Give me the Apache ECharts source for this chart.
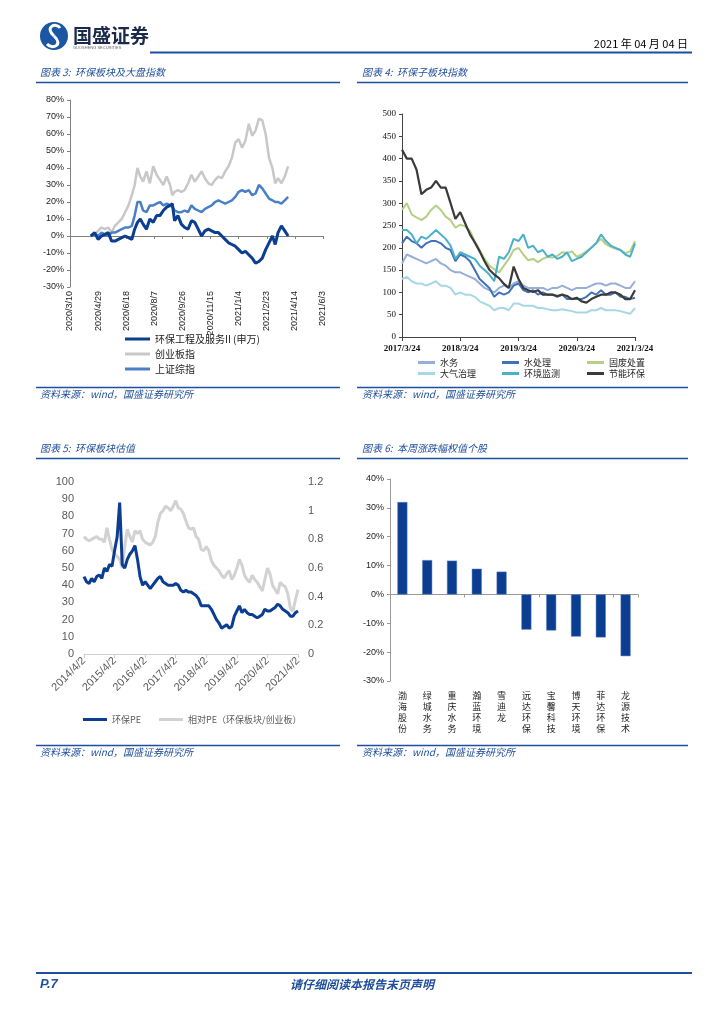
<!DOCTYPE html>
<html><head><meta charset="utf-8">
<script src="https://cdn.jsdelivr.net/npm/echarts@6/dist/echarts.min.js"></script>
<style>html,body{margin:0;padding:0;background:#fff}#c{width:724px;height:1024px}</style>
</head><body><div id="c"></div>
<script>
// ---------- Chart 3: 环保板块及大盘指数 ----------
const c3Ticks = ['2020/3/10','2020/4/29','2020/6/18','2020/8/7','2020/9/26','2020/11/15','2021/1/4','2021/2/23','2021/4/14','2021/6/3'];
const c3Day = [37,44,50,56,62,68,74,80,86,92,98,104,110,115,120,125,130,136,142,148,154,160,166,172,178,182,186,192,198,204,210,216,222,228,234,240,246,252,258,264,270,276,282,288,294,300,306,312,318,324,330,336,342,348,354,360,365,370,376,382,388];
const c3Env = [0,2,-2,0,1,2,-3,-3,-2,-1,0,-1,-2,4,8,10,7,4,10,8,12,12,15,17,18,19,9,12,7,5,4,9,8,4,0,3,4,3,2,2,0,-2,-4,-5,-6,-8,-10,-9,-11,-13,-16,-15,-13,-8,-4,0,-5,2,6,3,0];
const c3Gem = [0,1,3,5,4,5,2,6,8,10,14,18,24,30,40,35,32,38,31,41,36,33,30,35,30,24,26,27,26,27,31,36,32,35,38,34,31,30,33,35,34,38,41,46,55,57,52,56,66,59,62,69,68,60,46,40,31,34,31,35,41];
const c3SH = [0,1,0,2,1,0,2,2,3,4,5,5,6,12,20,20,15,14,18,18,19,20,18,19,18,17,15,14,14,15,14,18,16,15,14,16,17,18,20,21,20,19,20,21,23,26,27,26,27,24,25,30,28,25,22,21,20,20,19,21,23];
const c3Names = ['环保工程及服务II (申万)','创业板指','上证综指'];

// ---------- Chart 4: 环保子板块指数 (monthly from 2017/3/24) ----------
const c4Ticks = ['2017/3/24','2018/3/24','2019/3/24','2020/3/24','2021/3/24'];
const c4Names = ['水务','水处理','固废处置','大气治理','环境监测','节能环保'];
const c4Water = [165,185,180,175,170,165,170,175,165,160,150,145,145,140,135,130,120,110,105,100,110,115,110,120,125,115,110,110,110,110,105,110,110,115,110,105,110,110,110,115,120,120,115,120,120,115,110,110,125];
const c4Treat = [210,225,215,210,200,210,215,215,210,200,195,170,185,180,170,150,130,120,110,90,100,95,100,115,120,105,100,105,95,100,95,95,90,95,85,85,85,85,90,100,95,105,95,95,100,90,90,85,88];
const c4Solid = [285,300,275,268,262,270,285,295,285,270,262,245,252,248,238,215,195,175,160,152,145,160,175,195,200,185,172,175,168,175,180,178,182,190,188,192,180,185,192,200,210,220,208,202,198,195,188,192,215];
const c4Air = [130,135,125,120,120,115,120,125,115,115,110,95,100,95,95,90,80,75,70,60,65,65,60,75,75,70,70,70,65,65,62,60,60,62,60,58,55,55,55,60,60,65,60,60,60,58,55,52,65];
const c4Monitor = [240,240,230,210,225,220,230,240,230,220,205,175,190,185,180,175,160,150,140,125,180,175,190,220,215,230,200,205,190,195,180,185,175,180,190,170,175,180,190,200,210,230,215,205,200,195,185,180,210];
const c4Energy = [420,400,400,375,320,330,335,350,335,335,300,265,280,255,230,212,192,170,151,140,132,119,110,158,130,110,105,101,105,95,95,95,92,95,92,85,88,80,77,85,90,95,95,100,100,95,85,85,105];

// ---------- Chart 5: 环保板块估值 (monthly from 2014/4/2) ----------
const c5Ticks = ['2014/4/2','2015/4/2','2016/4/2','2017/4/2','2018/4/2','2019/4/2','2020/4/2','2021/4/2'];
const c5Names = ['环保PE','相对PE（环保板块/创业板）'];
const c5PE = [45,42,41,44,42,45,46,44,50,48,52,51,60,68,88,52,50,55,58,60,63,55,45,40,42,40,38,40,42,44,45,42,41,40,40,40,41,40,37,36,37,36,36,35,34,32,28,28,28,28,26,23,20,18,15,16,17,15,16,22,25,28,24,26,24,23,23,22,21,22,23,26,25,25,26,27,29,28,26,25,24,22,22,24,25];
const c5Rel = [0.82,0.80,0.79,0.80,0.81,0.82,0.80,0.80,0.78,0.88,0.80,0.73,0.70,0.68,0.66,0.60,0.75,0.87,0.82,0.78,0.86,0.84,0.86,0.80,0.78,0.77,0.76,0.78,0.82,0.92,0.98,1.00,1.03,1.02,1.00,1.03,1.07,1.02,1.01,0.98,0.93,0.88,0.87,0.88,0.82,0.80,0.73,0.72,0.75,0.72,0.65,0.62,0.60,0.58,0.55,0.53,0.56,0.58,0.52,0.55,0.60,0.66,0.62,0.55,0.52,0.50,0.55,0.52,0.50,0.47,0.44,0.52,0.60,0.56,0.48,0.45,0.42,0.50,0.48,0.47,0.42,0.32,0.30,0.38,0.45];

// ---------- Chart 6: 本周涨跌幅权值个股 ----------
const c6Names = ['渤海股份','绿城水务','重庆水务','瀚蓝环境','雪迪龙','远达环保','宝馨科技','博天环境','菲达环保','龙源技术'];
const c6Values = [32.0,11.9,11.7,8.9,7.9,-12.2,-12.5,-14.6,-14.9,-21.4];

const CJK = '"Noto Sans CJK SC"';
const BLUE = '#1f4e9c';
const pair = (xs, ys) => ys.map((v, i) => [xs[i], v]);
const idx = ys => ys.map((v, i) => [i, v]);

function txt(x, y, text, font, fill, align) {
  return { type: 'text', x: x, y: y, style: { text: text, font: font, fill: fill || BLUE, align: align || 'left', verticalAlign: 'middle' } };
}
function hline(x1, x2, y, w, c) {
  return { type: 'line', shape: { x1: x1, y1: y, x2: x2, y2: y }, style: { stroke: c || BLUE, lineWidth: w || 1.5 } };
}

const graphics = [
  { type: 'circle', shape: { cx: 54, cy: 36, r: 14 }, style: { fill: '#1b56a4' } },
  { type: 'bezierCurve', shape: { x1: 60, y1: 28, cpx1: 56, cpy1: 22, cpx2: 44, cpy2: 27, x2: 54, y2: 36 }, style: { fill: null, stroke: '#fff', lineWidth: 3 } },
  { type: 'bezierCurve', shape: { x1: 54, y1: 36, cpx1: 64, cpy1: 45, cpx2: 52, cpy2: 50, x2: 47, y2: 44 }, style: { fill: null, stroke: '#fff', lineWidth: 3 } },
  txt(73, 36, '国盛证券', 'bold 19px ' + CJK, '#1a2a4a'),
  txt(73, 48, 'GUOSHENG SECURITIES', '4px Arial', '#666'),
  txt(688, 44, '2021 年 04 月 04 日', '11px ' + CJK, '#000', 'right'),
  hline(150, 692, 52.5, 2),
  txt(40, 72, '图表 3:  环保板块及大盘指数', 'italic 10px ' + CJK),
  hline(36, 340, 82.5),
  txt(362, 72, '图表 4:  环保子板块指数', 'italic 10px ' + CJK),
  hline(357, 688, 82.5),
  hline(36, 340, 387.5),
  hline(357, 688, 387.5),
  txt(40, 394, '资料来源：wind，国盛证券研究所', 'italic 10px ' + CJK),
  txt(362, 394, '资料来源：wind，国盛证券研究所', 'italic 10px ' + CJK),
  txt(40, 448, '图表 5:  环保板块估值', 'italic 10px ' + CJK),
  hline(36, 340, 458.5),
  txt(362, 448, '图表 6:  本周涨跌幅权值个股', 'italic 10px ' + CJK),
  hline(357, 688, 458.5),
  hline(36, 340, 745.5),
  hline(357, 688, 745.5),
  txt(40, 752, '资料来源：wind，国盛证券研究所', 'italic 10px ' + CJK),
  txt(362, 752, '资料来源：wind，国盛证券研究所', 'italic 10px ' + CJK),
  hline(36, 692, 973, 2),
  txt(40, 984, 'P.7', 'italic bold 13px Arial'),
  txt(362, 984, '请仔细阅读本报告末页声明', 'italic bold 12px ' + CJK, BLUE, 'center')
];

const axisGrey = '#808080';
const option = {
  animation: false,
  backgroundColor: '#fff',
  graphic: graphics,
  grid: [
    { left: 70, top: 100, width: 253, height: 187 },
    { left: 402, top: 114, width: 233, height: 223 },
    { left: 84, top: 482, width: 214, height: 172 },
    { left: 390, top: 479, width: 248, height: 202 }
  ],
  xAxis: [
    { gridIndex: 0, type: 'value', min: 0, max: 450, interval: 50,
      axisLine: { onZero: true, lineStyle: { color: axisGrey } }, axisTick: { show: true, length: 3, lineStyle: { color: axisGrey } },
      axisLabel: { show: false }, splitLine: { show: false } },
    { gridIndex: 0, type: 'value', min: 0, max: 450, interval: 50, position: 'bottom',
      axisLine: { show: false, onZero: false }, axisTick: { show: false }, splitLine: { show: false },
      axisLabel: { rotate: 90, margin: 4, fontSize: 9, color: '#222', fontFamily: 'Arial', formatter: v => c3Ticks[Math.round(v / 50)] || '' } },
    { gridIndex: 1, type: 'value', min: 0, max: 48, interval: 12,
      axisLine: { lineStyle: { color: '#444' } }, axisTick: { length: 4, lineStyle: { color: '#444' } }, splitLine: { show: false },
      axisLabel: { margin: 7, fontSize: 9, fontWeight: 'bold', color: '#111', fontFamily: '"Liberation Serif"', formatter: v => c4Ticks[Math.round(v / 12)] || '' } },
    { gridIndex: 2, type: 'value', min: 0, max: 84, interval: 12,
      axisLine: { lineStyle: { color: '#d0d0d0' } }, axisTick: { length: 4, lineStyle: { color: '#d0d0d0' } }, splitLine: { show: false },
      axisLabel: { rotate: 45, margin: 5, fontSize: 11, color: '#595959', fontFamily: 'Arial', formatter: v => c5Ticks[Math.round(v / 12)] || '' } },
    { gridIndex: 3, type: 'category', data: c6Names,
      axisLine: { onZero: true, lineStyle: { color: '#999' } }, axisTick: { show: true, length: 3, lineStyle: { color: '#999' } },
      axisLabel: { show: false } },
    { gridIndex: 3, type: 'category', data: c6Names, position: 'bottom',
      axisLine: { show: false, onZero: false }, axisTick: { show: false },
      axisLabel: { interval: 0, margin: 9, fontSize: 9, lineHeight: 11, color: '#222', fontFamily: CJK, formatter: v => v.split('').join('\n') } }
  ],
  yAxis: [
    { gridIndex: 0, type: 'value', min: -30, max: 80, interval: 10,
      axisLine: { show: true, lineStyle: { color: axisGrey } }, axisTick: { show: true, length: 3, lineStyle: { color: axisGrey } }, splitLine: { show: false },
      axisLabel: { fontSize: 9, color: '#222', margin: 6, fontFamily: 'Arial', formatter: '{value}%' } },
    { gridIndex: 1, type: 'value', min: 0, max: 500, interval: 50,
      axisLine: { show: true, lineStyle: { color: '#444' } }, axisTick: { show: true, length: 3, lineStyle: { color: '#444' } }, splitLine: { show: false },
      axisLabel: { fontSize: 9, color: '#111', margin: 6, fontFamily: '"Liberation Serif"' } },
    { gridIndex: 2, type: 'value', min: 0, max: 100, interval: 10,
      axisLine: { show: false }, axisTick: { show: false }, splitLine: { show: false },
      axisLabel: { fontSize: 11, color: '#595959', margin: 10, fontFamily: 'Arial' } },
    { gridIndex: 2, type: 'value', min: 0, max: 1.2, interval: 0.2, position: 'right',
      axisLine: { show: false }, axisTick: { show: false }, splitLine: { show: false },
      axisLabel: { fontSize: 11, color: '#595959', margin: 10, fontFamily: 'Arial', formatter: v => String(Math.round(v * 10) / 10) } },
    { gridIndex: 3, type: 'value', min: -30, max: 40, interval: 10,
      axisLine: { show: true, lineStyle: { color: '#999' } }, axisTick: { show: true, length: 3, lineStyle: { color: '#999' } }, splitLine: { show: false },
      axisLabel: { fontSize: 9, color: '#222', margin: 6, fontFamily: 'Arial', formatter: '{value}%' } }
  ],
  legend: [
    { orient: 'vertical', left: 120, top: 329, itemWidth: 25, itemHeight: 3, itemGap: 5, icon: 'rect',
      data: c3Names, textStyle: { fontSize: 10, color: '#222', fontFamily: CJK } },
    { orient: 'vertical', left: 413, top: 353, itemWidth: 17, itemHeight: 3, itemGap: 2, icon: 'rect',
      data: ['水务', '大气治理'], textStyle: { fontSize: 9, color: '#222', fontFamily: CJK } },
    { orient: 'vertical', left: 497, top: 353, itemWidth: 17, itemHeight: 3, itemGap: 2, icon: 'rect',
      data: ['水处理', '环境监测'], textStyle: { fontSize: 9, color: '#222', fontFamily: CJK } },
    { orient: 'vertical', left: 582, top: 353, itemWidth: 17, itemHeight: 3, itemGap: 2, icon: 'rect',
      data: ['固废处置', '节能环保'], textStyle: { fontSize: 9, color: '#222', fontFamily: CJK } },
    { orient: 'horizontal', left: 78, top: 710, itemWidth: 24, itemHeight: 3, itemGap: 18, icon: 'rect',
      data: c5Names, textStyle: { fontSize: 9, color: '#595959', fontFamily: CJK } }
  ],
  series: [
    { name: c3Names[1], type: 'line', xAxisIndex: 0, yAxisIndex: 0, showSymbol: false, data: pair(c3Day, c3Gem), color: '#c8c8c8', lineStyle: { width: 2.5 } },
    { name: c3Names[2], type: 'line', xAxisIndex: 0, yAxisIndex: 0, showSymbol: false, data: pair(c3Day, c3SH), color: '#4a7fc6', lineStyle: { width: 2.5 } },
    { name: c3Names[0], type: 'line', xAxisIndex: 0, yAxisIndex: 0, showSymbol: false, data: pair(c3Day, c3Env), color: '#0b3d91', lineStyle: { width: 3 } },

    { name: c4Names[3], type: 'line', xAxisIndex: 2, yAxisIndex: 1, showSymbol: false, data: idx(c4Air), color: '#a8d8e6', lineStyle: { width: 2 } },
    { name: c4Names[0], type: 'line', xAxisIndex: 2, yAxisIndex: 1, showSymbol: false, data: idx(c4Water), color: '#95afd9', lineStyle: { width: 2 } },
    { name: c4Names[1], type: 'line', xAxisIndex: 2, yAxisIndex: 1, showSymbol: false, data: idx(c4Treat), color: '#3f72b8', lineStyle: { width: 2 } },
    { name: c4Names[2], type: 'line', xAxisIndex: 2, yAxisIndex: 1, showSymbol: false, data: idx(c4Solid), color: '#b5d084', lineStyle: { width: 2 } },
    { name: c4Names[4], type: 'line', xAxisIndex: 2, yAxisIndex: 1, showSymbol: false, data: idx(c4Monitor), color: '#4bb0c8', lineStyle: { width: 2 } },
    { name: c4Names[5], type: 'line', xAxisIndex: 2, yAxisIndex: 1, showSymbol: false, data: idx(c4Energy), color: '#3a3a3a', lineStyle: { width: 2.2 } },

    { name: c5Names[1], type: 'line', xAxisIndex: 3, yAxisIndex: 3, showSymbol: false, data: idx(c5Rel), color: '#d2d2d2', lineStyle: { width: 3 } },
    { name: c5Names[0], type: 'line', xAxisIndex: 3, yAxisIndex: 2, showSymbol: false, data: idx(c5PE), color: '#0b3d91', lineStyle: { width: 3 } },

    { name: '涨跌幅', type: 'bar', xAxisIndex: 4, yAxisIndex: 4, data: c6Values, barWidth: 10,
      itemStyle: { color: '#0b3d91', borderColor: '#5a7fc0', borderWidth: 0.5 } }
  ]
};
const chart = echarts.init(document.getElementById('c'), null, { renderer: 'canvas' });
chart.setOption(option);
</script>
</body></html>
